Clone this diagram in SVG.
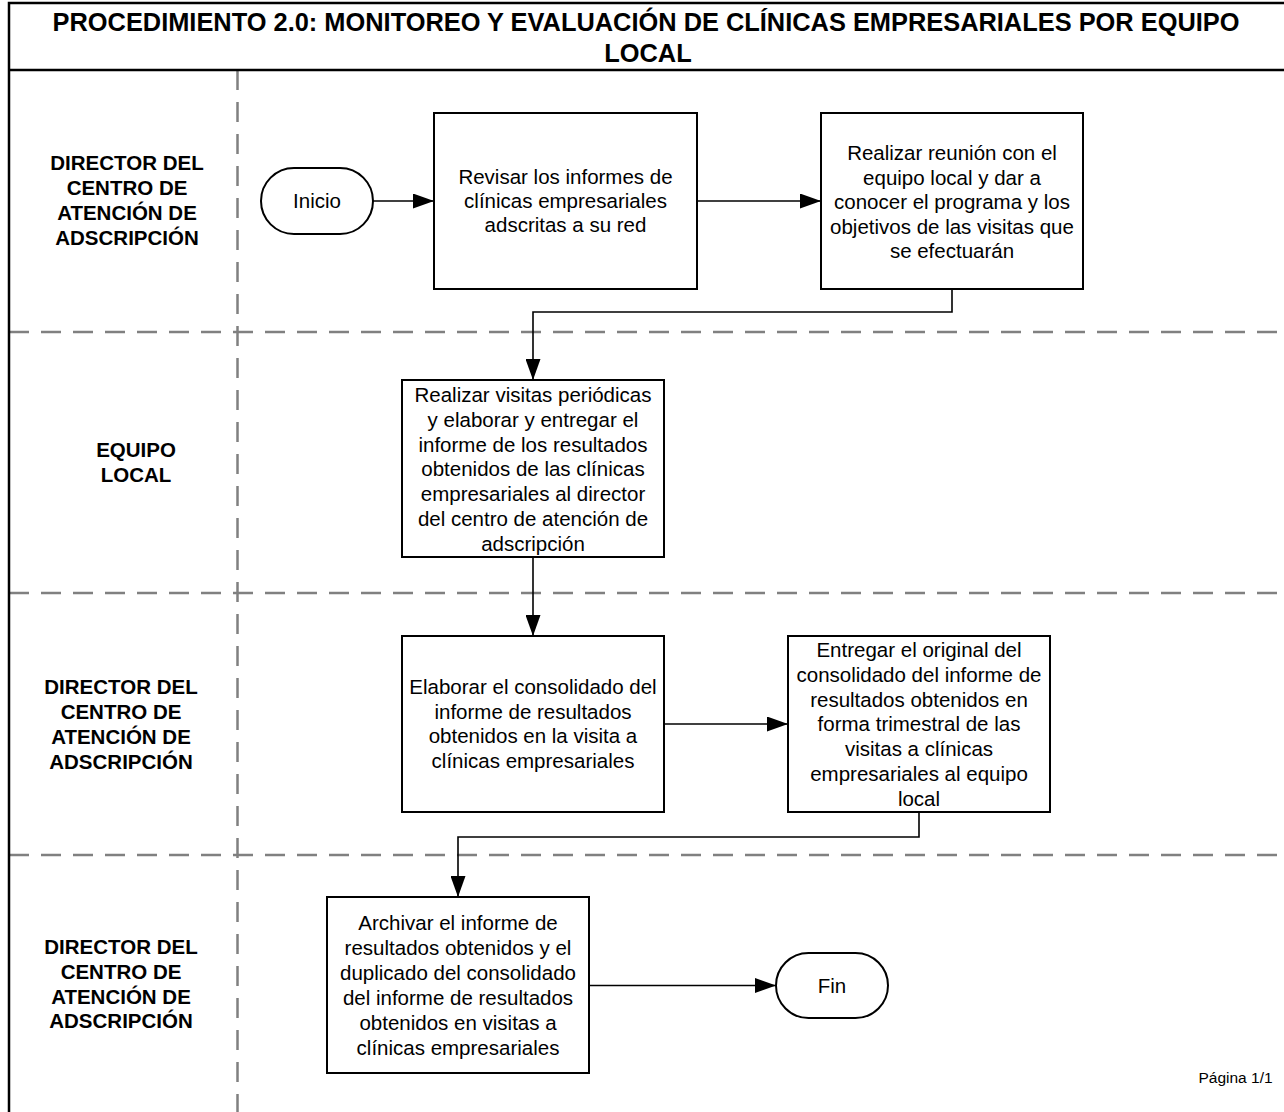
<svg xmlns="http://www.w3.org/2000/svg" width="1284" height="1112" viewBox="0 0 1284 1112">
<style>
.t{font-family:"Liberation Sans",Arial,sans-serif;font-size:20.5px;fill:#000;text-anchor:middle}
.lane{font-family:"Liberation Sans",Arial,sans-serif;font-size:20.5px;font-weight:bold;fill:#000;text-anchor:middle}
.title{font-family:"Liberation Sans",Arial,sans-serif;font-size:25.4px;font-weight:bold;fill:#000;text-anchor:middle}
.box{fill:#fff;stroke:#000;stroke-width:2}
.dash{stroke:#808080;stroke-width:2.5;stroke-dasharray:20 12;fill:none}
.con{stroke:#000;stroke-width:1.6;fill:none}
</style>
<defs>
<marker id="arr" markerUnits="userSpaceOnUse" markerWidth="21" markerHeight="15" refX="21" refY="7.5" orient="auto">
<path d="M0,0 L21,7.5 L0,15 z" fill="#000"/>
</marker>
</defs>
<rect width="1284" height="1112" fill="#fff"/>
<g id="frame">
<line class="dash" x1="237.5" y1="70" x2="237.5" y2="1112"/>
<line class="dash" x1="9" y1="332" x2="1284" y2="332"/>
<line class="dash" x1="9" y1="593" x2="1284" y2="593"/>
<line class="dash" x1="9" y1="855" x2="1284" y2="855"/>
<path d="M1290,3 H9 V1112" fill="none" stroke="#000" stroke-width="2.5"/>
<line x1="9" y1="70" x2="1290" y2="70" stroke="#000" stroke-width="2.5"/>
<text class="title" x="646" y="31">PROCEDIMIENTO 2.0: MONITOREO Y EVALUACIÓN DE CLÍNICAS EMPRESARIALES POR EQUIPO</text>
<text class="title" x="648" y="62">LOCAL</text>
</g>
<g id="lanes">
<text class="lane" x="127"><tspan x="127" y="170">DIRECTOR DEL</tspan><tspan x="127" y="195">CENTRO DE</tspan><tspan x="127" y="220">ATENCIÓN DE</tspan><tspan x="127" y="245">ADSCRIPCIÓN</tspan></text>
<text class="lane" x="136"><tspan x="136" y="457">EQUIPO</tspan><tspan x="136" y="482">LOCAL</tspan></text>
<text class="lane" x="121"><tspan x="121" y="694">DIRECTOR DEL</tspan><tspan x="121" y="719">CENTRO DE</tspan><tspan x="121" y="744">ATENCIÓN DE</tspan><tspan x="121" y="769">ADSCRIPCIÓN</tspan></text>
<text class="lane" x="121"><tspan x="121" y="954">DIRECTOR DEL</tspan><tspan x="121" y="979">CENTRO DE</tspan><tspan x="121" y="1004">ATENCIÓN DE</tspan><tspan x="121" y="1028">ADSCRIPCIÓN</tspan></text>
</g>
<g id="connectors">
<line class="con" x1="373" y1="201" x2="434" y2="201" marker-end="url(#arr)"/>
<line class="con" x1="697" y1="201" x2="821" y2="201" marker-end="url(#arr)"/>
<path class="con" d="M952,289 V312 H533 V380" marker-end="url(#arr)"/>
<line class="con" x1="533" y1="557" x2="533" y2="636" marker-end="url(#arr)"/>
<line class="con" x1="664" y1="724" x2="788" y2="724" marker-end="url(#arr)"/>
<path class="con" d="M919,812 V837 H458 V897" marker-end="url(#arr)"/>
<line class="con" x1="589" y1="985.5" x2="776" y2="985.5" marker-end="url(#arr)"/>
</g>
<g id="inicio">
<rect class="box" x="261" y="168" width="112" height="66" rx="33" ry="33"/>
<text class="t" x="317" y="208">Inicio</text>
</g>
<g id="revisar">
<rect class="box" x="434" y="113" width="263" height="176"/>
<text class="t"><tspan x="565.5" y="184">Revisar los informes de</tspan><tspan x="565.5" y="208">clínicas empresariales</tspan><tspan x="565.5" y="232">adscritas a su red</tspan></text>
</g>
<g id="reunion">
<rect class="box" x="821" y="113" width="262" height="176"/>
<text class="t"><tspan x="952" y="160">Realizar reunión con el</tspan><tspan x="952" y="184.5">equipo local y dar a</tspan><tspan x="952" y="209">conocer el programa y los</tspan><tspan x="952" y="233.5">objetivos de las visitas que</tspan><tspan x="952" y="258">se efectuarán</tspan></text>
</g>
<g id="visitas">
<rect class="box" x="402" y="380" width="262" height="177"/>
<text class="t"><tspan x="533" y="402">Realizar visitas periódicas</tspan><tspan x="533" y="426.8">y elaborar y entregar el</tspan><tspan x="533" y="451.6">informe de los resultados</tspan><tspan x="533" y="476.4">obtenidos de las clínicas</tspan><tspan x="533" y="501.2">empresariales al director</tspan><tspan x="533" y="526">del centro de atención de</tspan><tspan x="533" y="550.8">adscripción</tspan></text>
</g>
<g id="consolidado">
<rect class="box" x="402" y="636" width="262" height="176"/>
<text class="t"><tspan x="533" y="694">Elaborar el consolidado del</tspan><tspan x="533" y="718.7">informe de resultados</tspan><tspan x="533" y="743.4">obtenidos en la visita a</tspan><tspan x="533" y="768">clínicas empresariales</tspan></text>
</g>
<g id="entregar">
<rect class="box" x="788" y="636" width="262" height="176"/>
<text class="t"><tspan x="919" y="657">Entregar el original del</tspan><tspan x="919" y="681.8">consolidado del informe de</tspan><tspan x="919" y="706.6">resultados obtenidos en</tspan><tspan x="919" y="731.4">forma trimestral de las</tspan><tspan x="919" y="756.2">visitas a clínicas</tspan><tspan x="919" y="781">empresariales al equipo</tspan><tspan x="919" y="805.8">local</tspan></text>
</g>
<g id="archivar">
<rect class="box" x="327" y="897" width="262" height="176"/>
<text class="t"><tspan x="458" y="930">Archivar el informe de</tspan><tspan x="458" y="955">resultados obtenidos y el</tspan><tspan x="458" y="980">duplicado del consolidado</tspan><tspan x="458" y="1005">del informe de resultados</tspan><tspan x="458" y="1030">obtenidos en visitas a</tspan><tspan x="458" y="1055">clínicas empresariales</tspan></text>
</g>
<g id="fin">
<rect class="box" x="776" y="953" width="112" height="65" rx="32.5" ry="32.5"/>
<text class="t" x="832" y="993">Fin</text>
</g>
<text x="1235.5" y="1083" style="font-family:'Liberation Sans',Arial,sans-serif;font-size:15.5px;text-anchor:middle;fill:#000">Página 1/1</text>
</svg>
